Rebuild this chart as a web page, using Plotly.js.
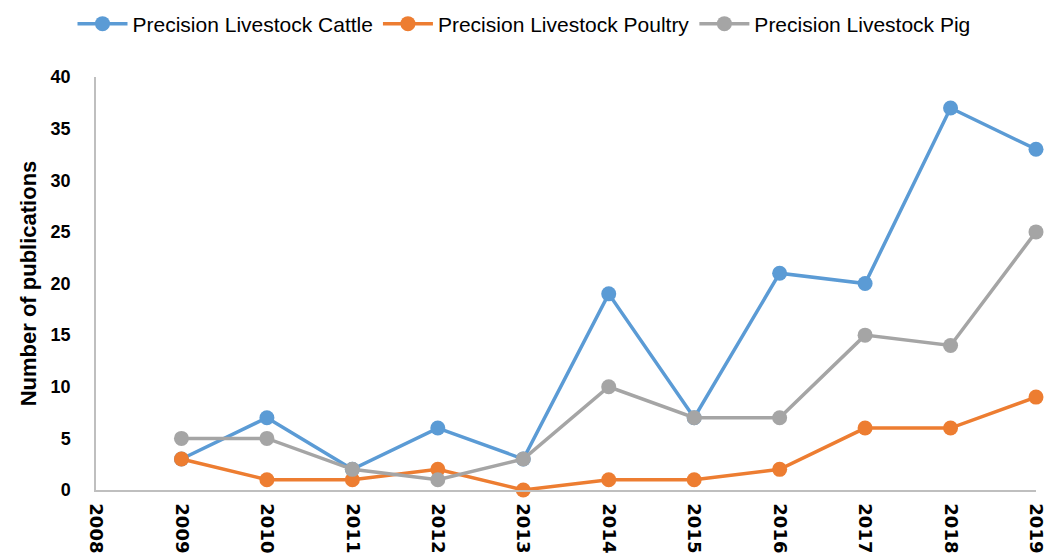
<!DOCTYPE html>
<html>
<head>
<meta charset="utf-8">
<script src="https://cdn.plot.ly/plotly-3.0.1.min.js"></script>
<style>html,body{margin:0;padding:0;background:#fff}#chart{width:1048px;height:553px}</style>
</head>
<body>
<div id="chart"></div>
<script>
const years = [2009, 2010, 2011, 2012, 2013, 2014, 2015, 2016, 2017, 2018, 2019];
const tickYears = [2008, 2009, 2010, 2011, 2012, 2013, 2014, 2015, 2016, 2017, 2018, 2019];
const cattle = [3, 7, 2, 6, 3, 19, 7, 21, 20, 37, 33];
const poultry = [3, 1, 1, 2, 0, 1, 1, 2, 6, 6, 9];
const pig = [5, 5, 2, 1, 3, 10, 7, 7, 15, 14, 25];
const names = ['Precision Livestock Cattle', 'Precision Livestock Poultry', 'Precision Livestock Pig'];
const colors = ['#5b9bd5', '#ed7d31', '#a5a5a5'];

const series = [cattle, poultry, pig];
const data = series.map((s, i) => ({
  x: years, y: s, name: names[i], type: 'scatter', mode: 'lines+markers',
  line: {color: colors[i], width: 3.5},
  marker: {color: colors[i], size: 15},
  cliponaxis: false
}));

const layout = {
  width: 1048, height: 553,
  margin: {l: 96, r: 12, t: 77, b: 63},
  paper_bgcolor: '#fff', plot_bgcolor: '#fff',
  showlegend: true,
  legend: {orientation: 'h', x: 0.5, xanchor: 'center', xref: 'container', y: 1 - 24/553, yref: 'container', yanchor: 'middle',
    font: {family: 'Liberation Sans, Arial, sans-serif', size: 21, color: '#000'}, itemwidth: 50, traceorder: 'normal'},
  xaxis: {
    type: 'linear', range: [2008, 2019], tickvals: tickYears, ticktext: tickYears.map(String),
    tickangle: 90, showgrid: false, zeroline: false, showline: true, linecolor: '#bfbfbf', linewidth: 1.5,
    ticks: '', ticklabelstandoff: 8,
    tickfont: {family: 'DejaVu Sans, sans-serif', size: 18, color: '#000', weight: 'bold'}
  },
  yaxis: {
    range: [0, 40], dtick: 5, tick0: 0, showgrid: false, zeroline: false, showline: true, linecolor: '#bfbfbf', linewidth: 1.5,
    ticks: '', ticklabelstandoff: 20,
    tickfont: {family: 'Liberation Sans, Arial, sans-serif', size: 18, color: '#000', weight: 'bold'},
    title: {text: 'Number of publications', standoff: 8, font: {family: 'Liberation Sans, Arial, sans-serif', size: 22, color: '#000', weight: 'bold'}}
  }
};
Plotly.newPlot('chart', data, layout, {displayModeBar: false, responsive: false});
</script>
</body>
</html>
